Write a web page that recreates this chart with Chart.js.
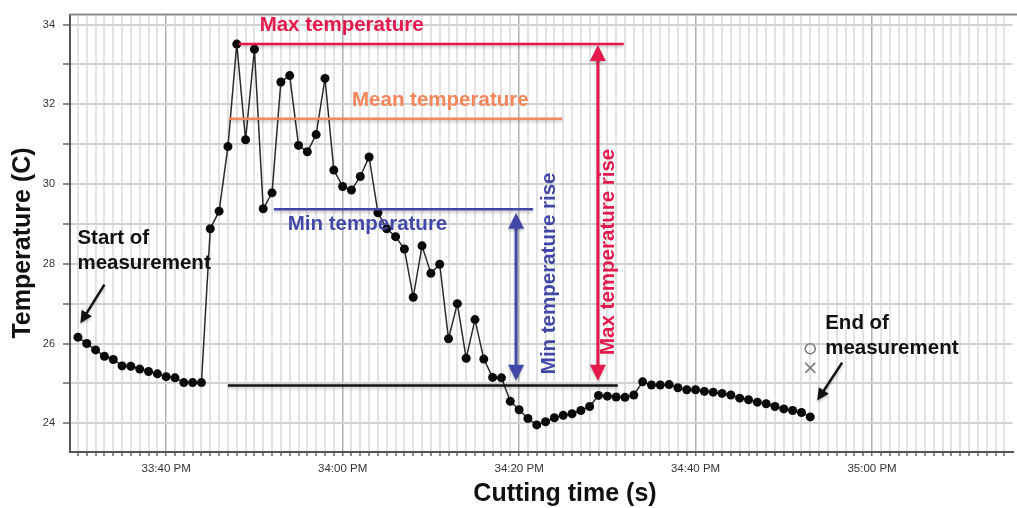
<!DOCTYPE html>
<html><head><meta charset="utf-8">
<script src="https://cdn.jsdelivr.net/npm/chart.js@4.4.1/dist/chart.umd.min.js"></script>
<style>html,body{margin:0;padding:0;background:#fff}#wrap{width:1017px;height:508px;position:relative}</style>
</head><body><div id="wrap"><canvas id="c" width="1017" height="508"></canvas></div>
<script>
// seconds after 33:00
const timeSec = [30,31,32,33,34,35,36,37,38,39,40,41,42,43,44,45,46,47,48,49,50,51,52,53,54,55,56,57,58,59,
  60,61,62,63,64,65,66,67,68,69,70,71,72,73,74,75,76,77,78,79,80,81,82,83,84,85,86,87,88,89,
  90,91,92,93,94,95,96,97,98,99,100,101,102,103,104,105,106,107,108,109,110,111,112,113];
const temperature = [26.16,26.00,25.84,25.68,25.60,25.44,25.43,25.36,25.30,25.24,25.17,25.14,25.02,25.02,25.02,
  28.88,29.32,30.94,33.51,31.11,33.38,29.38,29.78,32.56,32.72,30.97,30.81,31.24,32.65,30.35,
  29.94,29.85,30.19,30.68,29.28,28.88,28.68,28.37,27.16,28.45,27.76,27.99,26.12,27.00,25.63,
  26.60,25.61,25.15,25.14,24.55,24.34,24.12,23.96,24.04,24.14,24.20,24.24,24.32,24.42,24.70,
  24.68,24.66,24.65,24.71,25.04,24.96,24.96,24.97,24.89,24.84,24.84,24.80,24.78,24.75,24.71,
  24.63,24.59,24.53,24.49,24.42,24.36,24.32,24.27,24.16];
const xTickValues = [40,60,80,100,120];
const xTickLabels = ['33:40 PM','34:00 PM','34:20 PM','34:40 PM','35:00 PM'];
const yTickValues = [24,26,28,30,32,34];
const yTickLabels = ['24','26','28','30','32','34'];

const maxTemp = 33.51, meanTemp = 31.64, minTemp = 29.37, baseTemp = 24.95;

const RED = '#e5194c', BLUE = '#4248a8', ORANGE = '#f3865a';

const refLines = [
  {y: maxTemp, x0: 48.25, x1: 91.86, color: RED},
  {y: meanTemp, x0: 47.12, x1: 84.86, color: ORANGE},
  {y: minTemp, x0: 52.2, x1: 81.58, color: BLUE},
  {y: baseTemp, x0: 47.0, x1: 91.19, color: '#111'}
];
const arrows = [
  {x0: 79.66, y0: 29.28, x1: 79.66, y1: 25.07, color: BLUE, w: 3, both: true, hl: 16, hw: 8},
  {x0: 88.93, y0: 33.49, x1: 88.93, y1: 25.07, color: RED, w: 3, both: true, hl: 16, hw: 8},
  {x0: 33.0, y0: 27.48, x1: 30.28, y1: 26.51, color: '#111', w: 2.5, both: false, hl: 12, hw: 6},
  {x0: 116.61, y0: 25.52, x1: 113.79, y1: 24.57, color: '#111', w: 2.5, both: false, hl: 12, hw: 6}
];
const texts = [
  {t: 'Max temperature', x: 59.89, y: 33.98, color: RED, align: 'center', rot: 0},
  {t: 'Mean temperature', x: 71.07, y: 32.11, color: ORANGE, align: 'center', rot: 0},
  {t: 'Min temperature', x: 62.82, y: 28.98, color: BLUE, align: 'center', rot: 0},
  {t: 'Min temperature rise', x: 83.45, y: 27.76, color: BLUE, align: 'center', rot: -Math.PI/2},
  {t: 'Max temperature rise', x: 90.17, y: 28.3, color: RED, align: 'center', rot: -Math.PI/2},
  {t: 'Start of', x: 29.94, y: 28.65, color: '#111', align: 'left', rot: 0},
  {t: 'measurement', x: 29.94, y: 28.0, color: '#111', align: 'left', rot: 0},
  {t: 'End of', x: 114.69, y: 26.51, color: '#111', align: 'left', rot: 0},
  {t: 'measurement', x: 114.69, y: 25.87, color: '#111', align: 'left', rot: 0}
];
const legendMarks = [{x: 113.0, y: 25.87, kind: 'circle'}, {x: 113.0, y: 25.39, kind: 'cross'}];

function arrow(ctx, x0, y0, x1, y1, color, w, both, hl, hw) {
  const ang = Math.atan2(y1 - y0, x1 - x0);
  const head = (tx, ty, a) => {
    ctx.beginPath();
    ctx.moveTo(tx, ty);
    ctx.lineTo(tx - hl*Math.cos(a) + hw*Math.sin(a), ty - hl*Math.sin(a) - hw*Math.cos(a));
    ctx.lineTo(tx - hl*Math.cos(a) - hw*Math.sin(a), ty - hl*Math.sin(a) + hw*Math.cos(a));
    ctx.closePath(); ctx.fill();
  };
  ctx.strokeStyle = color; ctx.fillStyle = color; ctx.lineWidth = w;
  ctx.beginPath();
  const sx = both ? x0 + (hl-2)*Math.cos(ang) : x0, sy = both ? y0 + (hl-2)*Math.sin(ang) : y0;
  ctx.moveTo(sx, sy);
  ctx.lineTo(x1 - (hl-2)*Math.cos(ang), y1 - (hl-2)*Math.sin(ang));
  ctx.stroke();
  head(x1, y1, ang);
  if (both) head(x0, y0, ang + Math.PI);
}

const annot = {
  id: 'annot',
  beforeDatasetsDraw(c) {
    const ctx = c.ctx, a = c.chartArea;
    ctx.save();
    ctx.strokeStyle = '#8a8a8a'; ctx.lineWidth = 2;
    ctx.beginPath(); ctx.moveTo(a.left, a.top); ctx.lineTo(a.right + 5, a.top); ctx.stroke();
    ctx.restore();
  },
  afterDatasetsDraw(c) {
    const ctx = c.ctx, xs = c.scales.x, ys = c.scales.y;
    const X = v => xs.getPixelForValue(v), Y = v => ys.getPixelForValue(v);
    ctx.save();
    ctx.shadowColor = 'rgba(0,0,0,0.22)'; ctx.shadowBlur = 3; ctx.shadowOffsetY = 2;
    refLines.forEach(l => {
      ctx.strokeStyle = l.color; ctx.lineWidth = 2.5;
      ctx.beginPath(); ctx.moveTo(X(l.x0), Y(l.y)); ctx.lineTo(X(l.x1), Y(l.y)); ctx.stroke();
    });
    arrows.forEach(r => arrow(ctx, X(r.x0), Y(r.y0), X(r.x1), Y(r.y1), r.color, r.w, r.both, r.hl, r.hw));
    ctx.shadowColor = 'transparent';
    ctx.font = 'bold 20.5px "Liberation Sans", Arial, sans-serif';
    ctx.textBaseline = 'middle';
    texts.forEach(t => {
      ctx.save();
      ctx.fillStyle = t.color; ctx.textAlign = t.align;
      ctx.translate(X(t.x), Y(t.y)); ctx.rotate(t.rot);
      ctx.fillText(t.t, 0, 0);
      ctx.restore();
    });
    ctx.strokeStyle = '#7a7a7a'; ctx.lineWidth = 1.5;
    legendMarks.forEach(m => {
      const px = X(m.x), py = Y(m.y);
      ctx.beginPath();
      if (m.kind === 'circle') { ctx.arc(px, py, 5, 0, Math.PI*2); }
      else { ctx.moveTo(px-5, py-5); ctx.lineTo(px+5, py+5); ctx.moveTo(px+5, py-5); ctx.lineTo(px-5, py+5); }
      ctx.stroke();
    });
    // axis titles
    ctx.fillStyle = '#111';
    ctx.font = 'bold 25px "Liberation Sans", Arial, sans-serif';
    ctx.textAlign = 'center';
    ctx.fillText('Cutting time (s)', 565, 494);
    ctx.save(); ctx.translate(23, 243); ctx.rotate(-Math.PI/2);
    ctx.fillText('Temperature (C)', 0, 0); ctx.restore();
    ctx.restore();
  }
};

new Chart(document.getElementById('c'), {
  type: 'line',
  data: {
    datasets: [{
      data: timeSec.map((t, i) => ({x: t, y: temperature[i]})),
      borderColor: '#2a2a2a', borderWidth: 1.5,
      pointRadius: 4.5, pointBackgroundColor: '#0a0a0a', pointBorderColor: '#0a0a0a', pointBorderWidth: 0,
      tension: 0
    }]
  },
  options: {
    responsive: false, animation: false,
    layout: {padding: {top: 11, right: 2, left: 0, bottom: 0}},
    plugins: {legend: {display: false}, tooltip: {enabled: false}},
    scales: {
      x: {
        type: 'linear', min: 29.1, max: 135.92,
        afterFit: s => { s.height = 56; },
        border: {display: true, color: '#555', width: 2},
        grid: {
          color: ctx => (ctx.tick && xTickValues.includes(ctx.tick.value)) ? '#b0b0b0' : '#e3e3e3',
          lineWidth: ctx => (ctx.tick && xTickValues.includes(ctx.tick.value)) ? 1.5 : 2,
          tickColor: '#666', tickLength: 4, tickWidth: 1.5
        },
        ticks: {
          stepSize: 1, includeBounds: false, autoSkip: false, maxRotation: 0, padding: 6,
          color: '#333', font: {family: '"Liberation Sans", Arial, sans-serif', size: 11.5},
          callback: v => { const k = xTickValues.indexOf(v); return k >= 0 ? xTickLabels[k] : ''; }
        }
      },
      y: {
        type: 'linear', min: 23.28, max: 34.25,
        afterFit: s => { s.width = 70; },
        border: {display: true, color: '#555', width: 2},
        grid: {color: '#d2d2d2', lineWidth: 2, tickColor: '#666', tickLength: 7, tickWidth: 1.5},
        ticks: {
          stepSize: 1, includeBounds: false, autoSkip: false, padding: 8,
          color: '#333', font: {family: '"Liberation Sans", Arial, sans-serif', size: 11},
          callback: v => { const k = yTickValues.indexOf(v); return k >= 0 ? yTickLabels[k] : ''; }
        }
      }
    }
  },
  plugins: [annot]
});
</script></body></html>
